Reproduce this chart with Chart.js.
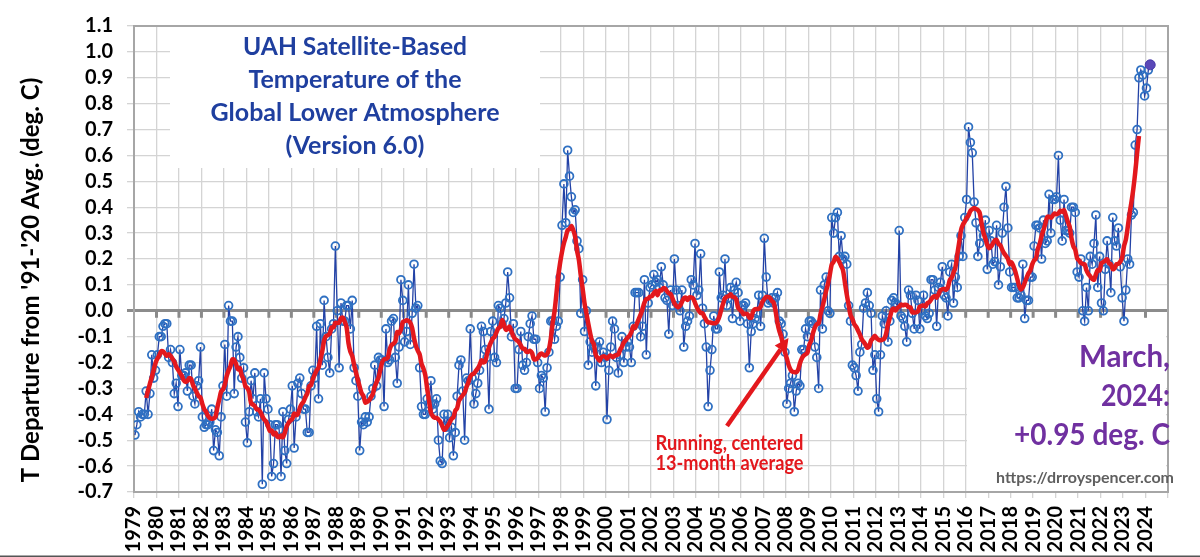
<!DOCTYPE html>
<html><head><meta charset="utf-8">
<script src="https://cdn.jsdelivr.net/npm/chart.js@4.4.1/dist/chart.umd.min.js"></script>
<style>html,body{margin:0;padding:0;background:#fff;}canvas{display:block;}</style>
</head><body>
<canvas id="c" width="1200" height="557"></canvas>
<script>
// Monthly anomalies (deg C)
const t1979 = [-0.48,-0.44,-0.39,-0.41,-0.40,-0.40,-0.31,-0.40,-0.32,-0.17,-0.26,-0.23];
const t1980 = [-0.17,-0.10,-0.10,-0.06,-0.05,-0.05,-0.18,-0.15,-0.20,-0.32,-0.28,-0.37];
const t1981 = [-0.15,-0.25,-0.25,-0.24,-0.31,-0.21,-0.21,-0.33,-0.36,-0.29,-0.27,-0.14];
const t1982 = [-0.41,-0.45,-0.44,-0.44,-0.43,-0.38,-0.54,-0.46,-0.47,-0.56,-0.41,-0.29];
const t1983 = [-0.13,-0.33,0.02,-0.04,-0.04,-0.32,-0.14,-0.10,-0.18,-0.26,-0.22,-0.43];
const t1984 = [-0.51,-0.39,-0.27,-0.34,-0.24,-0.39,-0.41,-0.34,-0.67,-0.24,-0.34,-0.38];
const t1985 = [-0.44,-0.64,-0.59,-0.44,-0.44,-0.46,-0.64,-0.39,-0.54,-0.59,-0.42,-0.38];
const t1986 = [-0.29,-0.53,-0.41,-0.28,-0.26,-0.32,-0.38,-0.38,-0.47,-0.47,-0.29,-0.23];
const t1987 = [-0.26,-0.06,-0.34,-0.05,-0.21,0.04,-0.10,-0.18,-0.24,-0.07,-0.05,0.25];
const t1988 = [0.00,-0.22,0.03,-0.04,-0.04,0.02,0.02,-0.07,0.04,-0.22,-0.27,-0.33];
const t1989 = [-0.54,-0.43,-0.44,-0.41,-0.43,-0.41,-0.33,-0.30,-0.21,-0.29,-0.18,-0.19];
const t1990 = [-0.19,-0.37,-0.07,-0.20,-0.19,-0.04,-0.03,-0.18,-0.28,-0.14,0.12,0.04];
const t1991 = [-0.12,-0.08,0.10,-0.13,-0.01,0.18,0.01,0.02,-0.22,-0.37,-0.40,-0.40];
const t1992 = [-0.34,-0.36,-0.27,-0.38,-0.36,-0.34,-0.50,-0.58,-0.59,-0.40,-0.45,-0.40];
const t1993 = [-0.49,-0.45,-0.56,-0.47,-0.33,-0.21,-0.19,-0.31,-0.50,-0.26,-0.27,-0.07];
const t1994 = [-0.26,-0.36,-0.32,-0.28,-0.23,-0.06,-0.08,-0.15,-0.18,-0.38,-0.08,-0.04];
const t1995 = [-0.18,-0.20,0.02,0.01,-0.05,-0.03,0.03,0.15,0.05,-0.10,-0.05,-0.30];
const t1996 = [-0.30,-0.15,-0.08,-0.21,-0.23,-0.20,-0.10,-0.05,-0.02,-0.11,-0.11,-0.20];
const t1997 = [-0.30,-0.25,-0.26,-0.39,-0.22,-0.16,-0.04,-0.04,-0.11,-0.06,-0.04,0.13];
const t1998 = [0.33,0.49,0.34,0.62,0.52,0.44,0.38,0.39,0.27,0.24,-0.01,0.12];
const t1999 = [-0.08,0.00,-0.21,-0.12,-0.16,-0.14,-0.29,-0.14,-0.12,-0.20,-0.16,-0.18];
const t2000 = [-0.42,-0.23,-0.14,-0.04,-0.07,-0.18,-0.24,-0.17,-0.10,-0.20,-0.14,-0.12];
const t2001 = [-0.14,-0.20,-0.06,0.07,0.07,0.07,-0.10,-0.06,0.12,-0.17,0.03,0.09];
const t2002 = [0.10,0.14,0.11,0.12,0.09,0.17,0.10,0.05,0.04,-0.09,0.08,0.02];
const t2003 = [0.20,0.08,0.02,0.00,0.08,-0.14,-0.06,-0.04,-0.02,0.12,0.10,0.26];
const t2004 = [0.06,0.08,0.22,0.01,-0.05,-0.14,-0.37,-0.23,-0.15,-0.02,-0.07,-0.07];
const t2005 = [0.15,0.05,0.06,0.20,0.02,0.05,0.09,-0.03,0.08,0.11,0.07,-0.04];
const t2006 = [0.02,0.02,0.03,-0.05,-0.22,-0.08,-0.05,-0.03,-0.01,0.06,-0.06,0.06];
const t2007 = [0.28,0.13,0.03,0.04,0.05,0.03,0.05,0.07,-0.04,-0.05,-0.09,-0.16];
const t2008 = [-0.36,-0.30,-0.28,-0.25,-0.39,-0.31,-0.28,-0.29,-0.15,-0.15,-0.07,-0.10];
const t2009 = [-0.04,-0.04,-0.05,-0.14,-0.18,-0.30,0.08,-0.07,0.10,0.13,0.00,-0.01];
const t2010 = [0.36,0.30,0.36,0.38,0.21,0.29,0.20,0.21,0.18,0.02,-0.04,-0.21];
const t2011 = [-0.22,-0.25,-0.31,-0.16,-0.13,0.01,0.03,0.07,0.02,-0.01,-0.23,-0.17];
const t2012 = [-0.34,-0.39,-0.17,-0.02,-0.05,0.00,-0.12,-0.04,0.04,0.05,0.03,0.02];
const t2013 = [0.31,-0.02,-0.03,-0.06,-0.12,0.08,0.06,-0.01,-0.07,0.06,0.04,-0.07];
const t2014 = [0.00,0.06,-0.02,-0.03,-0.01,0.12,0.12,0.08,-0.06,0.09,0.11,0.17];
const t2015 = [0.06,0.05,-0.02,0.15,0.18,0.03,0.13,0.09,0.21,0.29,0.21,0.36];
const t2016 = [0.43,0.71,0.65,0.61,0.42,0.34,0.21,0.26,0.32,0.29,0.35,0.16];
const t2017 = [0.31,0.27,0.18,0.19,0.33,0.10,0.17,0.30,0.40,0.48,0.32,0.15];
const t2018 = [0.09,0.09,0.09,0.05,0.05,0.06,0.18,-0.03,0.04,0.04,0.13,0.13];
const t2019 = [0.25,0.33,0.33,0.32,0.20,0.35,0.26,0.27,0.45,0.30,0.43,0.43];
const t2020 = [0.44,0.60,0.35,0.27,0.43,0.31,0.31,0.30,0.40,0.40,0.38,0.15];
const t2021 = [0.13,0.20,0.00,-0.04,0.09,0.00,0.21,0.18,0.26,0.37,0.09,0.21];
const t2022 = [0.03,0.00,0.16,0.27,0.18,0.07,0.36,0.27,0.25,0.32,0.17,0.05];
const t2023 = [-0.04,0.08,0.20,0.18,0.37,0.38,0.64,0.70,0.90,0.93,0.91,0.83];
const t2024 = [0.86,0.93,0.95];

const yearLabels = ['1979','1980','1981','1982','1983','1984','1985','1986','1987','1988','1989','1990',
 '1991','1992','1993','1994','1995','1996','1997','1998','1999','2000','2001','2002','2003','2004',
 '2005','2006','2007','2008','2009','2010','2011','2012','2013','2014','2015','2016','2017','2018',
 '2019','2020','2021','2022','2023','2024'];
const yTickMin = -0.7, yTickMax = 1.1, yTickStep = 0.1;

const titleLines = ['UAH Satellite-Based','Temperature of the','Global Lower Atmosphere','(Version 6.0)'];
const latestLines = ['March,','2024:','+0.95 deg. C'];
const noteLines = ['Running, centered','13-month average'];
const yTitle = "T Departure from '91-'20 Avg. (deg. C)";
const siteText = 'https://drroyspencer.com';

const monthly = [].concat(t1979,t1980,t1981,t1982,t1983,t1984,t1985,t1986,t1987,t1988,t1989,t1990,
 t1991,t1992,t1993,t1994,t1995,t1996,t1997,t1998,t1999,t2000,t2001,t2002,t2003,t2004,t2005,t2006,
 t2007,t2008,t2009,t2010,t2011,t2012,t2013,t2014,t2015,t2016,t2017,t2018,t2019,t2020,t2021,t2022,t2023,t2024);
const points = monthly.map((v,i)=>({x:i,y:v}));
// running, centered 13-month average of the monthly series
const running = [];
for (let i=6;i<monthly.length-6;i++){let s=0;for(let j=i-6;j<=i+6;j++)s+=monthly[j];running.push({x:i,y:s/13});}
const last = monthly.length-1;

const FONT = 'Lato';
const RED = '#e3181d';
const isZero = v => Math.abs(v) < 1e-9;

const decor = {
  id:'decor',
  beforeDatasetsDraw(chart){
    const {ctx, chartArea:a, scales:{x,y}} = chart;
    ctx.save();
    ctx.fillStyle='#fff';
    ctx.fillRect(170, a.top+1, 370, 167-a.top);
    ctx.fillRect(967, 318, a.right-967-2, a.bottom-318-1);
    const y0 = y.getPixelForValue(0);
    ctx.strokeStyle='#8a8a8a'; ctx.lineWidth=3;
    for(let k=1;k<yearLabels.length;k++){
      const px = x.getPixelForValue(k*12-0.5);
      ctx.beginPath(); ctx.moveTo(px,y0); ctx.lineTo(px,y0+7); ctx.stroke();
    }
    ctx.strokeStyle='#a6a6a6'; ctx.lineWidth=2;
    ctx.strokeRect(a.left, a.top, a.right-a.left, a.bottom-a.top);
    ctx.restore();
  },
  afterDraw(chart){
    const {ctx} = chart;
    ctx.save();
    ctx.fillStyle='#1f3f9f'; ctx.textAlign='center'; ctx.textBaseline='alphabetic';
    ctx.font='bold 25px '+FONT;
    const tb=[55,87.5,120.5,154], tw=[224,220,294,144];
    titleLines.forEach((t,i)=>ctx.fillText(t,355,tb[i],tw[i]));
    ctx.fillStyle='#7030a0'; ctx.textAlign='right'; ctx.font='bold 30px '+FONT;
    const lb=[367,406,445], lw=[91,69,156];
    latestLines.forEach((t,i)=>ctx.fillText(t,1170,lb[i],lw[i]));
    ctx.fillStyle='#5f5f5f'; ctx.font='bold 16px '+FONT;
    ctx.fillText(siteText,1174,483,191);
    ctx.fillStyle=RED; ctx.textAlign='center'; ctx.font='bold 21px '+FONT;
    ctx.fillText(noteLines[0],729.5,449.5,148);
    ctx.fillText(noteLines[1],729.5,469.5,148);
    const x1=727,y1=426,x2=788.5,y2=338;
    const ang=Math.atan2(y2-y1,x2-x1), hl=14, hw=7;
    const bx=x2-hl*Math.cos(ang), by=y2-hl*Math.sin(ang);
    ctx.strokeStyle=RED; ctx.lineWidth=4.5; ctx.lineCap='butt';
    ctx.beginPath(); ctx.moveTo(x1,y1); ctx.lineTo(bx,by); ctx.stroke();
    ctx.beginPath(); ctx.moveTo(x2,y2);
    ctx.lineTo(bx+hw*Math.sin(ang), by-hw*Math.cos(ang));
    ctx.lineTo(bx-hw*Math.sin(ang), by+hw*Math.cos(ang));
    ctx.closePath(); ctx.fill();
    ctx.fillStyle='#000'; ctx.font='bold 24px '+FONT; ctx.textAlign='center'; ctx.textBaseline='alphabetic';
    ctx.translate(39,280); ctx.rotate(-Math.PI/2);
    ctx.fillText(yTitle,0,0,424);
    ctx.restore();
    ctx.save(); ctx.fillStyle='#555'; ctx.fillRect(0,555.5,1200,1.5); ctx.restore();
  }
};

new Chart(document.getElementById('c'), {
  type:'line',
  data:{datasets:[
    {label:'13-month', data:running, borderColor:RED, borderWidth:4.5, pointRadius:0, tension:0.3, order:0, fill:false},
    {label:'monthly', data:points, borderColor:'#2342a6', borderWidth:1.3, tension:0, order:1, fill:false,
     pointRadius:c=>c.dataIndex===last?5:3.9,
     pointBorderWidth:c=>c.dataIndex===last?1:1.8,
     pointBorderColor:c=>c.dataIndex===last?'#4838a8':'#2f70c2',
     pointBackgroundColor:c=>c.dataIndex===last?'#5a48b8':'rgba(255,255,255,0)'}
  ]},
  options:{
    responsive:false, animation:false, devicePixelRatio:1,
    layout:{padding:{left:0,top:17,right:17,bottom:0}},
    plugins:{legend:{display:false}, tooltip:{enabled:false}},
    scales:{
      x:{type:'linear', min:-0.5, max:yearLabels.length*12-0.5,
        afterBuildTicks:s=>{ s.ticks = yearLabels.map((_,k)=>({value:k*12-0.5})).concat([{value:yearLabels.length*12-0.5}]); },
        ticks:{autoSkip:false, maxRotation:90, minRotation:90, padding:8, color:'#000',
          font:{family:FONT,size:20,weight:'bold'}, callback:(v,i)=>yearLabels[i] ?? ''},
        grid:{color:'#d4d4d4', lineWidth:1.3, tickLength:6},
        border:{color:'#a6a6a6', width:2},
        afterFit:s=>{ s.height = 65; }
      },
      y:{type:'linear', min:yTickMin, max:yTickMax,
        ticks:{stepSize:yTickStep, autoSkip:false, padding:14, color:'#000', font:{family:FONT,size:20,weight:'bold'},
          callback:v=> isZero(v) ? '0.0' : Number(v).toFixed(1)},
        grid:{color:c=>isZero(c.tick.value)?'#8c8c8c':'#d4d4d4', lineWidth:c=>isZero(c.tick.value)?3:1.3, tickLength:7},
        border:{color:'#a6a6a6', width:2},
        afterFit:s=>{ s.width = 134; }
      }
    }
  },
  plugins:[decor]
});
</script>
</body></html>
